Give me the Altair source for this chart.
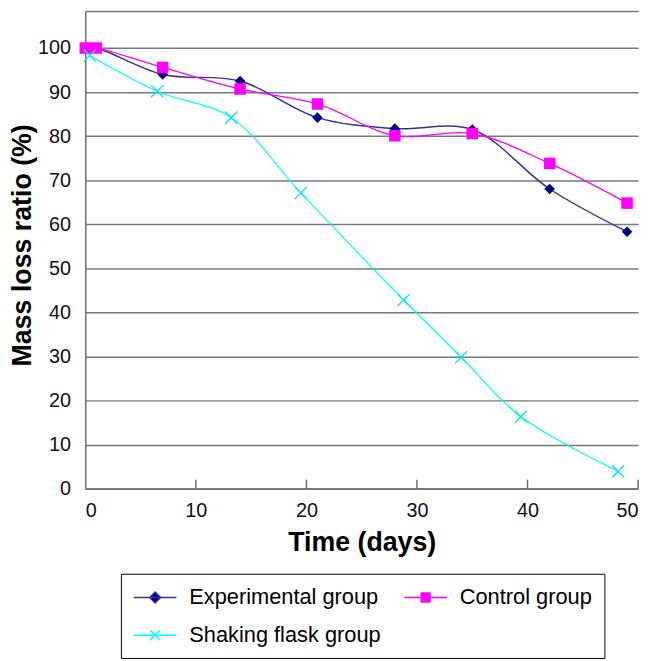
import altair as alt
import pandas as pd

# ---- data ----
groups = ["Experimental group", "Control group", "Shaking flask group"]

exp_days = [0, 1, 7, 14, 21, 28, 35, 42, 49]
exp_vals = [100, 100, 94.0, 92.5, 84.2, 81.7, 81.5, 68.0, 58.3]

ctrl_days = [0, 1, 7, 14, 21, 28, 35, 42, 49]
ctrl_vals = [100, 100, 95.6, 90.7, 87.3, 80.1, 80.6, 73.8, 64.8]

shake_days = [0.4, 6.5, 13.2, 19.5, 28.8, 34.0, 39.4, 48.2]
shake_vals = [98.3, 90.2, 84.2, 67.1, 42.8, 29.8, 16.3, 3.9]

x_ticks = [0, 10, 20, 30, 40, 50]
y_ticks = [0, 10, 20, 30, 40, 50, 60, 70, 80, 90, 100, 108.4]

line_colors = ["#333399", "#ff00ff", "#00ffff"]
marker_colors = ["#000080", "#ff00ff", "#00e8f0"]

rows = []
for g, ds, vs in zip(groups, [exp_days, ctrl_days, shake_days],
                     [exp_vals, ctrl_vals, shake_vals]):
    for d, v in zip(ds, vs):
        rows.append({"day": d, "value": v, "group": g})
df = pd.DataFrame(rows)
tick_df = pd.DataFrame({"day": x_ticks[1:]})

W, H = 558, 482
FONT = "Liberation Sans"

x_enc = alt.X("day:Q", scale=alt.Scale(domain=[0, 50], nice=False),
              axis=alt.Axis(values=x_ticks, title="Time (days)", grid=False,
                            ticks=False, tickSize=0, labelPadding=28,
                            labelBaseline="alphabetic", labelFontSize=20,
                            titleFontSize=27, titleFontWeight="bold",
                            titleBaseline="alphabetic", titleY=63,
                            domainColor="#6e6e6e", domainWidth=1.5,
                            labelColor="#111111", titleColor="#000000"))
y_enc = alt.Y("value:Q", scale=alt.Scale(domain=[0, 108.4], nice=False, zero=True),
              axis=alt.Axis(values=y_ticks, title="Mass loss ratio (%)",
                            labelExpr="datum.value > 100 ? '' : datum.label",
                            grid=True, gridColor="#7a7a7a", gridWidth=1.5,
                            ticks=False, tickSize=0, labelPadding=15,
                            labelFontSize=20, titleFontSize=27,
                            titleFontWeight="bold", titleAngle=270,
                            titleBaseline="alphabetic", titleX=-55, titleY=236,
                            domainColor="#6e6e6e", domainWidth=1.5,
                            labelColor="#111111", titleColor="#000000"))

color_scale = alt.Scale(domain=groups, range=line_colors)

lines = []
widths = [1.5, 1.3, 1.2]
for g, w in zip(groups, widths):
    lines.append(
        alt.Chart(df).transform_filter(alt.datum.group == g)
        .mark_line(interpolate="catmull-rom", strokeWidth=w)
        .encode(x=x_enc, y=y_enc,
                color=alt.Color("group:N", scale=color_scale, legend=None))
    )

diamond = alt.Chart(df).transform_filter(alt.datum.group == groups[0]).mark_point(
    shape="diamond", filled=True, size=115, opacity=1, color=marker_colors[0]
).encode(x=x_enc, y=y_enc)
square = alt.Chart(df).transform_filter(alt.datum.group == groups[1]).mark_point(
    shape="square", filled=True, size=135, opacity=1, color=marker_colors[1]
).encode(x=x_enc, y=y_enc)
cross = alt.Chart(df).transform_filter(alt.datum.group == groups[2]).mark_point(
    shape="M-1,-1L1,1M-1,1L1,-1", filled=False, size=150, opacity=1,
    color=marker_colors[2], strokeWidth=1.3
).encode(x=x_enc, y=y_enc)

tick_rules = alt.Chart(tick_df).mark_rule(color="#6e6e6e", strokeWidth=1.5).encode(
    x=alt.X("day:Q"), y=alt.value(H - 9), y2=alt.value(H)
)

# legend symbols: a 43px line with the marker in its middle (symbol size 484 -> 11px per unit)
legend_paths = [
    "M-1,0L2.91,0M0.955,-0.5L1.455,0L0.955,0.5L0.455,0Z",
    "M-1,0L2.91,0M0.555,-0.42L1.355,-0.42L1.355,0.42L0.555,0.42Z",
    "M-1,0L2.91,0M0.505,-0.45L1.405,0.45M0.505,0.45L1.405,-0.45",
]
leg = alt.Legend(
    title=None, orient="none", legendX=36, legendY=568, columns=2,
    columnPadding=20, rowPadding=15, padding=12, strokeColor="#000000",
    fillColor="#ffffff", labelFont=FONT, labelFontSize=22, labelColor="#000000",
    labelOffset=33, symbolSize=484, symbolStrokeWidth=1.5, labelLimit=400,
    cornerRadius=0, direction="horizontal",
)
legend_layer = alt.Chart(df).mark_point(
    filled=True, opacity=1, size=0
).encode(
    x=alt.X("day:Q"), y=alt.Y("value:Q"),
    fill=alt.Fill("group:N", scale=alt.Scale(domain=groups, range=marker_colors), legend=leg),
    stroke=alt.Stroke("group:N", scale=alt.Scale(domain=groups, range=line_colors), legend=leg),
    shape=alt.Shape("group:N", scale=alt.Scale(domain=groups, range=legend_paths), legend=leg),
)

chart = alt.layer(legend_layer, *lines, diamond, square, cross, tick_rules).properties(
    width=W, height=H,
    autosize=alt.AutoSizeParams(type="none"),
    padding={"left": 78, "top": 0, "right": 10, "bottom": 170},
).configure_view(stroke=None).configure_axis(
    labelFont=FONT, titleFont=FONT
)

chart.save("out.html", embed_options={"renderer": "svg", "actions": False})
